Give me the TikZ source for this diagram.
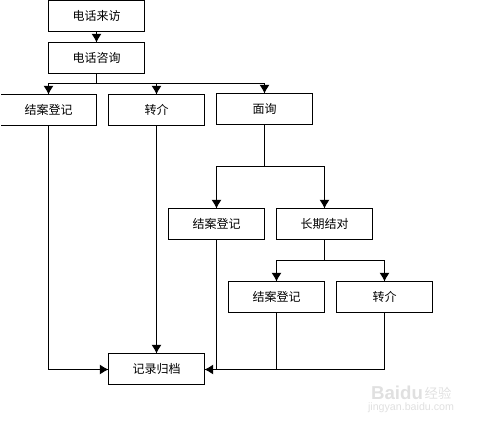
\documentclass[tikz,border=0pt]{standalone}
\usepackage{fontspec}
\setmainfont{Noto Sans CJK SC}
\newfontfamily\wmfont{Liberation Sans}
\usetikzlibrary{arrows.meta,calc}
\definecolor{wm}{gray}{0.88}
\tikzset{
  box/.style={draw=black,line width=0.75pt,fill=white,minimum width=72pt,minimum height=23.25pt,inner sep=0pt,outer sep=0pt,font=\fontsize{9}{9}\selectfont},
  conn/.style={draw=black,line width=0.75pt},
  arr/.style={conn,-{Latex[length=6.5pt,width=7.5pt]}},
  mark text/.style={text=wm,inner sep=0pt,outer sep=0pt}
}
\begin{document}
\begin{tikzpicture}[x=0.75pt,y=-0.75pt]
\useasboundingbox (0,0) rectangle (484,426);
\clip (1,0) rectangle (484,426);
\node[box] (visit) at (96.5,16) {电话来访};
\node[box] (consult) at (96.5,58) {电话咨询};
\node[box] (close1) at (48.5,110) {结案登记};
\node[box] (refer1) at (156.5,110) {转介};
\node[box] (meet) at (264.5,109) {面询};
\node[box] (close2) at (216.5,224) {结案登记};
\node[box] (long) at (324.5,224) {长期结对};
\node[box] (close3) at (276.5,297) {结案登记};
\node[box] (refer2) at (384.5,297) {转介};
\node[box] (archive) at (156.5,369) {记录归档};
\coordinate (busA) at (96.5,83.5);
\coordinate (busB) at (264.5,166.5);
\coordinate (busC) at (324.5,260.5);
\coordinate (inL) at ($(archive.west)+(0,0.5)$);
\coordinate (inR) at ($(archive.east)+(0,0.5)$);
\draw[arr] (visit) -- (consult);
\draw[conn] (consult) -- (busA);
\draw[arr] (busA) -| (close1);
\draw[arr] (busA) -| (refer1);
\draw[arr] (busA) -| (meet);
\draw[conn] (meet) -- (busB);
\draw[arr] (busB) -| (close2);
\draw[arr] (busB) -| (long);
\draw[conn] (long) -- (busC);
\draw[arr] (busC) -| (close3);
\draw[arr] (busC) -| (refer2);
\draw[arr] (close1) |- (inL);
\draw[arr] (refer1) -- (archive);
\draw[arr] (refer2) |- (inR);
\draw[conn] (close2.south) -- (close2.south |- inR);
\draw[conn] (close3.south) -- (close3.south |- inR);
\node[mark text,font=\wmfont\bfseries\fontsize{14}{14}\selectfont] (wmA) at (397,393) {Baidu};
\node[mark text,font=\fontsize{10}{10}\selectfont] (wmB) at (438,393) {经验};
\node[mark text,font=\wmfont\fontsize{8}{8}\selectfont] (wmC) at (411,408) {jingyan.baidu.com};
\end{tikzpicture}
\end{document}
